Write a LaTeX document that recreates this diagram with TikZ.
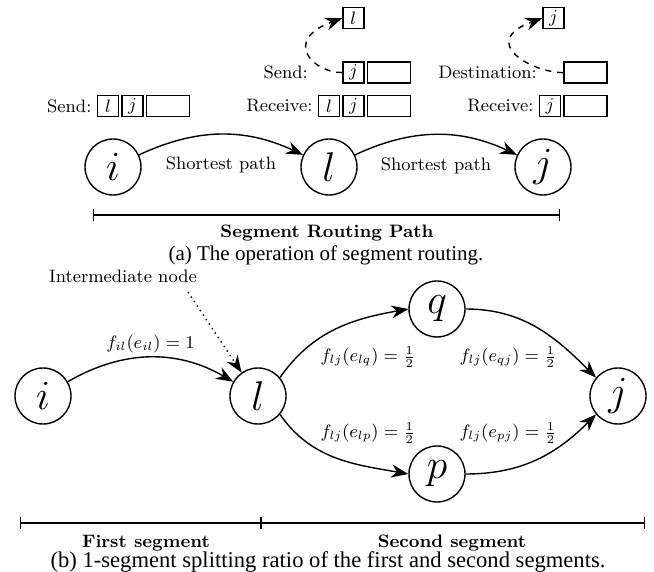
\documentclass[tikz,border=0pt]{standalone}
\usepackage{fontspec}
\usepackage{amsmath, amssymb}
\newfontfamily\capfont{Liberation Serif}
\usetikzlibrary{positioning, arrows.meta}

\begin{document}
\begin{tikzpicture}[x=0.5pt, y=0.5pt,
	vtx/.style={draw, circle, line width=0.7pt, minimum size=28pt, inner sep=0pt, font=\huge},
	cell/.style={draw, line width=0.7pt, minimum width=10.5pt, minimum height=10.5pt, inner sep=0pt, font=\small},
	wcell/.style={cell, minimum width=21.5pt},
	lbl/.style={font=\small, inner sep=1pt},
	blbl/.style={font=\small\bfseries, inner sep=1pt},
	capt/.style={font=\capfont\fontsize{10.5}{12}\selectfont, inner sep=1pt},
	arr/.style={-{Stealth[length=8.5pt, width=6.5pt]}, line width=0.7pt},
	hop/.style={arr, dashed},
	brk/.style={{Bar[width=6pt]}-{Bar[width=6pt]}, line width=0.7pt}]
	\useasboundingbox (0,0) rectangle (654,-572);

	% (a) segment routing
	\node[vtx] (i1) at (113,-167) {$i$};
	\node[vtx] (l1) at (329,-167) {$l$};
	\node[vtx] (j1) at (543,-167) {$j$};

	\draw[arr] (i1) to[bend left=25] node[lbl, midway, below=10pt] {Shortest path} (l1);
	\draw[arr] (l1) to[bend left=25] node[lbl, midway, below=10pt] {Shortest path} (j1);

	% headers at i
	\node[cell] (ia) at (108,-106) {$l$};
	\node[cell, right=1pt of ia] (ib) {$j$};
	\node[wcell, right=1pt of ib] (ic) {};
	\node[lbl, left=1.5pt of ia] {Send:};

	% headers at l
	\node[cell] (la) at (329,-106) {$l$};
	\node[cell, right=1pt of la] (lb) {$j$};
	\node[wcell, right=1pt of lb] (lc) {};
	\node[lbl, left=1.5pt of la] {Receive:};
	\node[cell, above=5.5pt of lb] (ld) {$j$};
	\node[wcell, right=1pt of ld] (le) {};
	\node[lbl, left=16pt of ld] {Send:};
	\node[cell, above=16pt of ld] (lf) {$l$};
	\draw[hop] (ld.west) to[out=180, in=200, out looseness=1.4, in looseness=3] (lf.west);

	% headers at j
	\node[cell] (ja) at (550,-106) {$j$};
	\node[wcell, right=1pt of ja] (jb) {};
	\node[lbl, left=1.5pt of ja] {Receive:};
	\node[wcell, above=5.5pt of jb] (jc) {};
	\node[lbl, left=12pt of jc] {Destination:};
	\node[cell, above right=16pt and -10.5pt of jc.north west] (jd) {$j$};
	\draw[hop] (jc.west) to[out=180, in=200, out looseness=1.4, in looseness=3] (jd.west);

	\coordinate (a1) at (93,-215);
	\coordinate (a2) at (560,-215);
	\draw[brk] (a1) -- (a2);
	\node[blbl] at (327,-233) {Segment Routing Path};
	\node[capt] at (326,-255) {(a) The operation of segment routing.};

	% (b) splitting ratio
	\node[vtx] (i2) at (43,-396) {$i$};
	\node[vtx] (l2) at (258,-396) {$l$};
	\node[vtx] (q2) at (437,-309) {$q$};
	\node[vtx] (p2) at (437,-474) {$p$};
	\node[vtx] (j2) at (618,-396) {$j$};

	\draw[arr] (i2) to[bend left=30] node[lbl, midway, above=1pt] {$f_{il}(e_{il}) = 1$} (l2);
	\draw[arr] (l2.40) to[out=55, in=190] (q2.west);
	\draw[arr] (q2.east) to[out=0, in=135] (j2.140);
	\draw[arr] (l2.-40) to[out=-55, in=170] (p2.west);
	\draw[arr] (p2.east) to[out=0, in=-135] (j2.-140);

	\node[lbl] at (368,-357) {$f_{lj}(e_{lq}) = \frac{1}{2}$};
	\node[lbl] at (508,-357) {$f_{lj}(e_{qj}) = \frac{1}{2}$};
	\node[lbl] at (368,-433) {$f_{lj}(e_{lp}) = \frac{1}{2}$};
	\node[lbl] at (508,-433) {$f_{lj}(e_{pj}) = \frac{1}{2}$};

	\node[lbl] (im) at (123,-276) {Intermediate node};
	\coordinate (im1) at (188,-292);
	\draw[arr, dotted] (im1) -- (l2.125);

	\coordinate (b1) at (20,-523);
	\coordinate (b2) at (261,-523);
	\coordinate (b3) at (645,-523);
	\draw[brk] (b1) -- (b2);
	\draw[brk] (b2) -- (b3);
	\node[blbl] at (146,-543) {First segment};
	\node[blbl] at (452,-543) {Second segment};
	\node[capt, font=\capfont\fontsize{11.3}{13}\selectfont] at (328,-562) {(b) 1-segment splitting ratio of the first and second segments.};
\end{tikzpicture}
\end{document}
